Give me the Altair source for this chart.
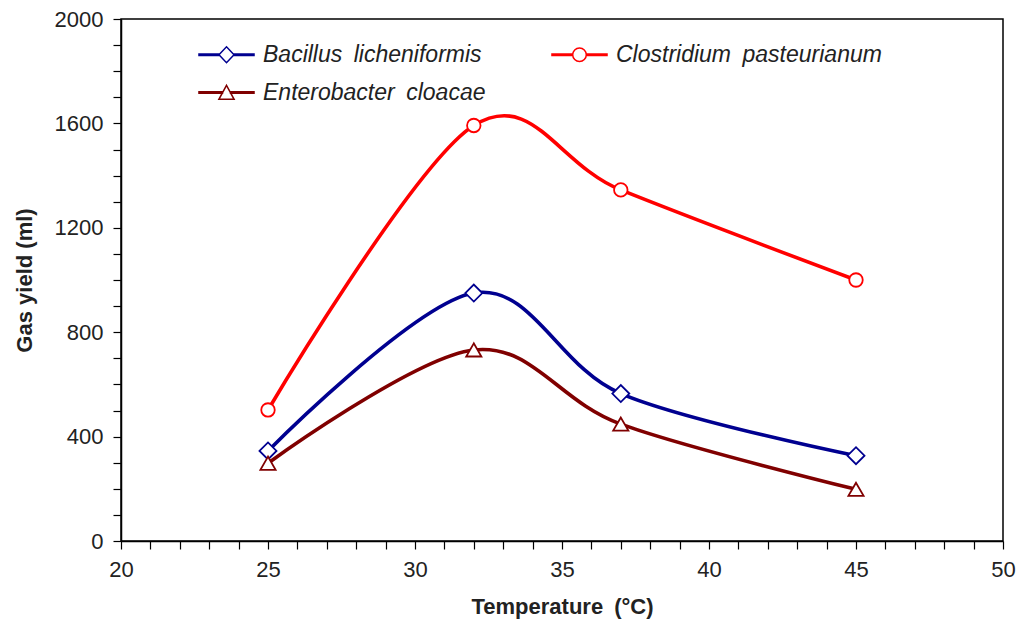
import altair as alt
import pandas as pd

temps = [25, 32, 37, 45]
series_names = ["Bacillus licheniformis", "Enterobacter cloacae", "Clostridium pasteurianum"]
bacillus = [345, 950, 565, 327]
enterobacter = [298, 732, 448, 198]
clostridium = [502, 1592, 1345, 1000]
colors = ["#000090", "#800000", "#FF0000"]
shapes = ["diamond", "triangle-up", "circle"]
sizes = [289, 230, 182]

rows = []
for name, vals, shp, sz in zip(series_names, [bacillus, enterobacter, clostridium], shapes, sizes):
    for t, v in zip(temps, vals):
        rows.append({"Temperature": t, "Yield": v, "Series": name, "Marker": shp, "MSize": sz})
df = pd.DataFrame(rows)

path_b = "M-3.44,-0.09H-0.94V0.09H-3.44Z M0.94,-0.09H3.44V0.09H0.94Z M-0.94,0L0,-1L0.94,0L0,1Z"
path_c = "M-3.44,-0.09H-0.85V0.09H-3.44Z M0.85,-0.09H3.44V0.09H0.85Z M-0.85,0A0.85,0.85,0,1,0,0.85,0A0.85,0.85,0,1,0,-0.85,0Z"
path_e = "M-3.44,-0.09H-0.5V0.09H-3.44Z M0.5,-0.09H3.44V0.09H0.5Z M0,-0.9L0.95,0.85H-0.95Z"
shape_expr = (
    f"datum.value === '{series_names[0]}' ? '{path_b}' : "
    f"datum.value === '{series_names[2]}' ? '{path_c}' : '{path_e}'"
)

legend = alt.Legend(
    title=None,
    orient="none",
    legendX=94,
    legendY=24,
    columns=2,
    columnPadding=62,
    rowPadding=14,
    padding=0,
    symbolType={"expr": shape_expr},
    symbolSize=256,
    symbolStrokeWidth=1.5,
    symbolFillColor="white",
    symbolOpacity=1,
    labelOffset=25,
    labelFont="Liberation Sans",
    labelFontSize=23,
    labelFontStyle="italic",
    labelColor="#222222",
    labelLimit=400,
    labelExpr="replace(datum.label, ' ', '\u2002')",
)

color = alt.Color("Series:N", scale=alt.Scale(domain=series_names, range=colors), legend=legend)
xenc = alt.X(
    "Temperature:Q",
    scale=alt.Scale(domain=[20, 50], nice=False),
    axis=alt.Axis(
        title="Temperature\u2002(°C)",
        values=list(range(20, 51)),
        labelExpr="datum.value % 5 == 0 ? datum.label : ''",
        labelFlush=False,
        grid=False,
        tickSize=8,
        labelPadding=10,
        titlePadding=16,
    ),
)
yenc = alt.Y(
    "Yield:Q",
    scale=alt.Scale(domain=[0, 2000], nice=False),
    axis=alt.Axis(
        title="Gas yield (ml)",
        values=list(range(0, 2001, 100)),
        labelExpr="datum.value % 400 == 0 ? datum.label : ''",
        labelFlush=False,
        format="d",
        grid=False,
        tickSize=8,
        labelPadding=10,
        titlePadding=18,
    ),
)

lines = alt.Chart(df).mark_line(interpolate="cardinal", tension=0, strokeWidth=3.6).encode(
    x=xenc, y=yenc, color=color, detail="Series:N"
)
points = (
    alt.Chart(df)
    .mark_point(filled=False, fill="white", fillOpacity=1, opacity=1, strokeWidth=1.8)
    .encode(
        x=xenc,
        y=yenc,
        color=color,
        shape=alt.Shape("Marker:N", scale=None),
        size=alt.Size("MSize:Q", scale=None),
    )
)

chart = (
    alt.layer(lines, points)
    .properties(
        width=882,
        height=522,
        autosize=alt.AutoSizeParams(type="none"),
        padding={"left": 121, "top": 19, "right": 16, "bottom": 82},
        background="white",
    )
    .configure_view(stroke="black", strokeWidth=1.5)
    .configure_axis(
        domainColor="black",
        domainWidth=1.5,
        tickColor="black",
        tickWidth=1.2,
        labelFont="Liberation Sans",
        labelFontSize=22,
        labelColor="#222222",
        titleFont="Liberation Sans",
        titleFontSize=22,
        titleFontWeight="bold",
        titleColor="#222222",
    )
)

chart.save("out.html", embed_options={"renderer": "svg", "actions": False})
